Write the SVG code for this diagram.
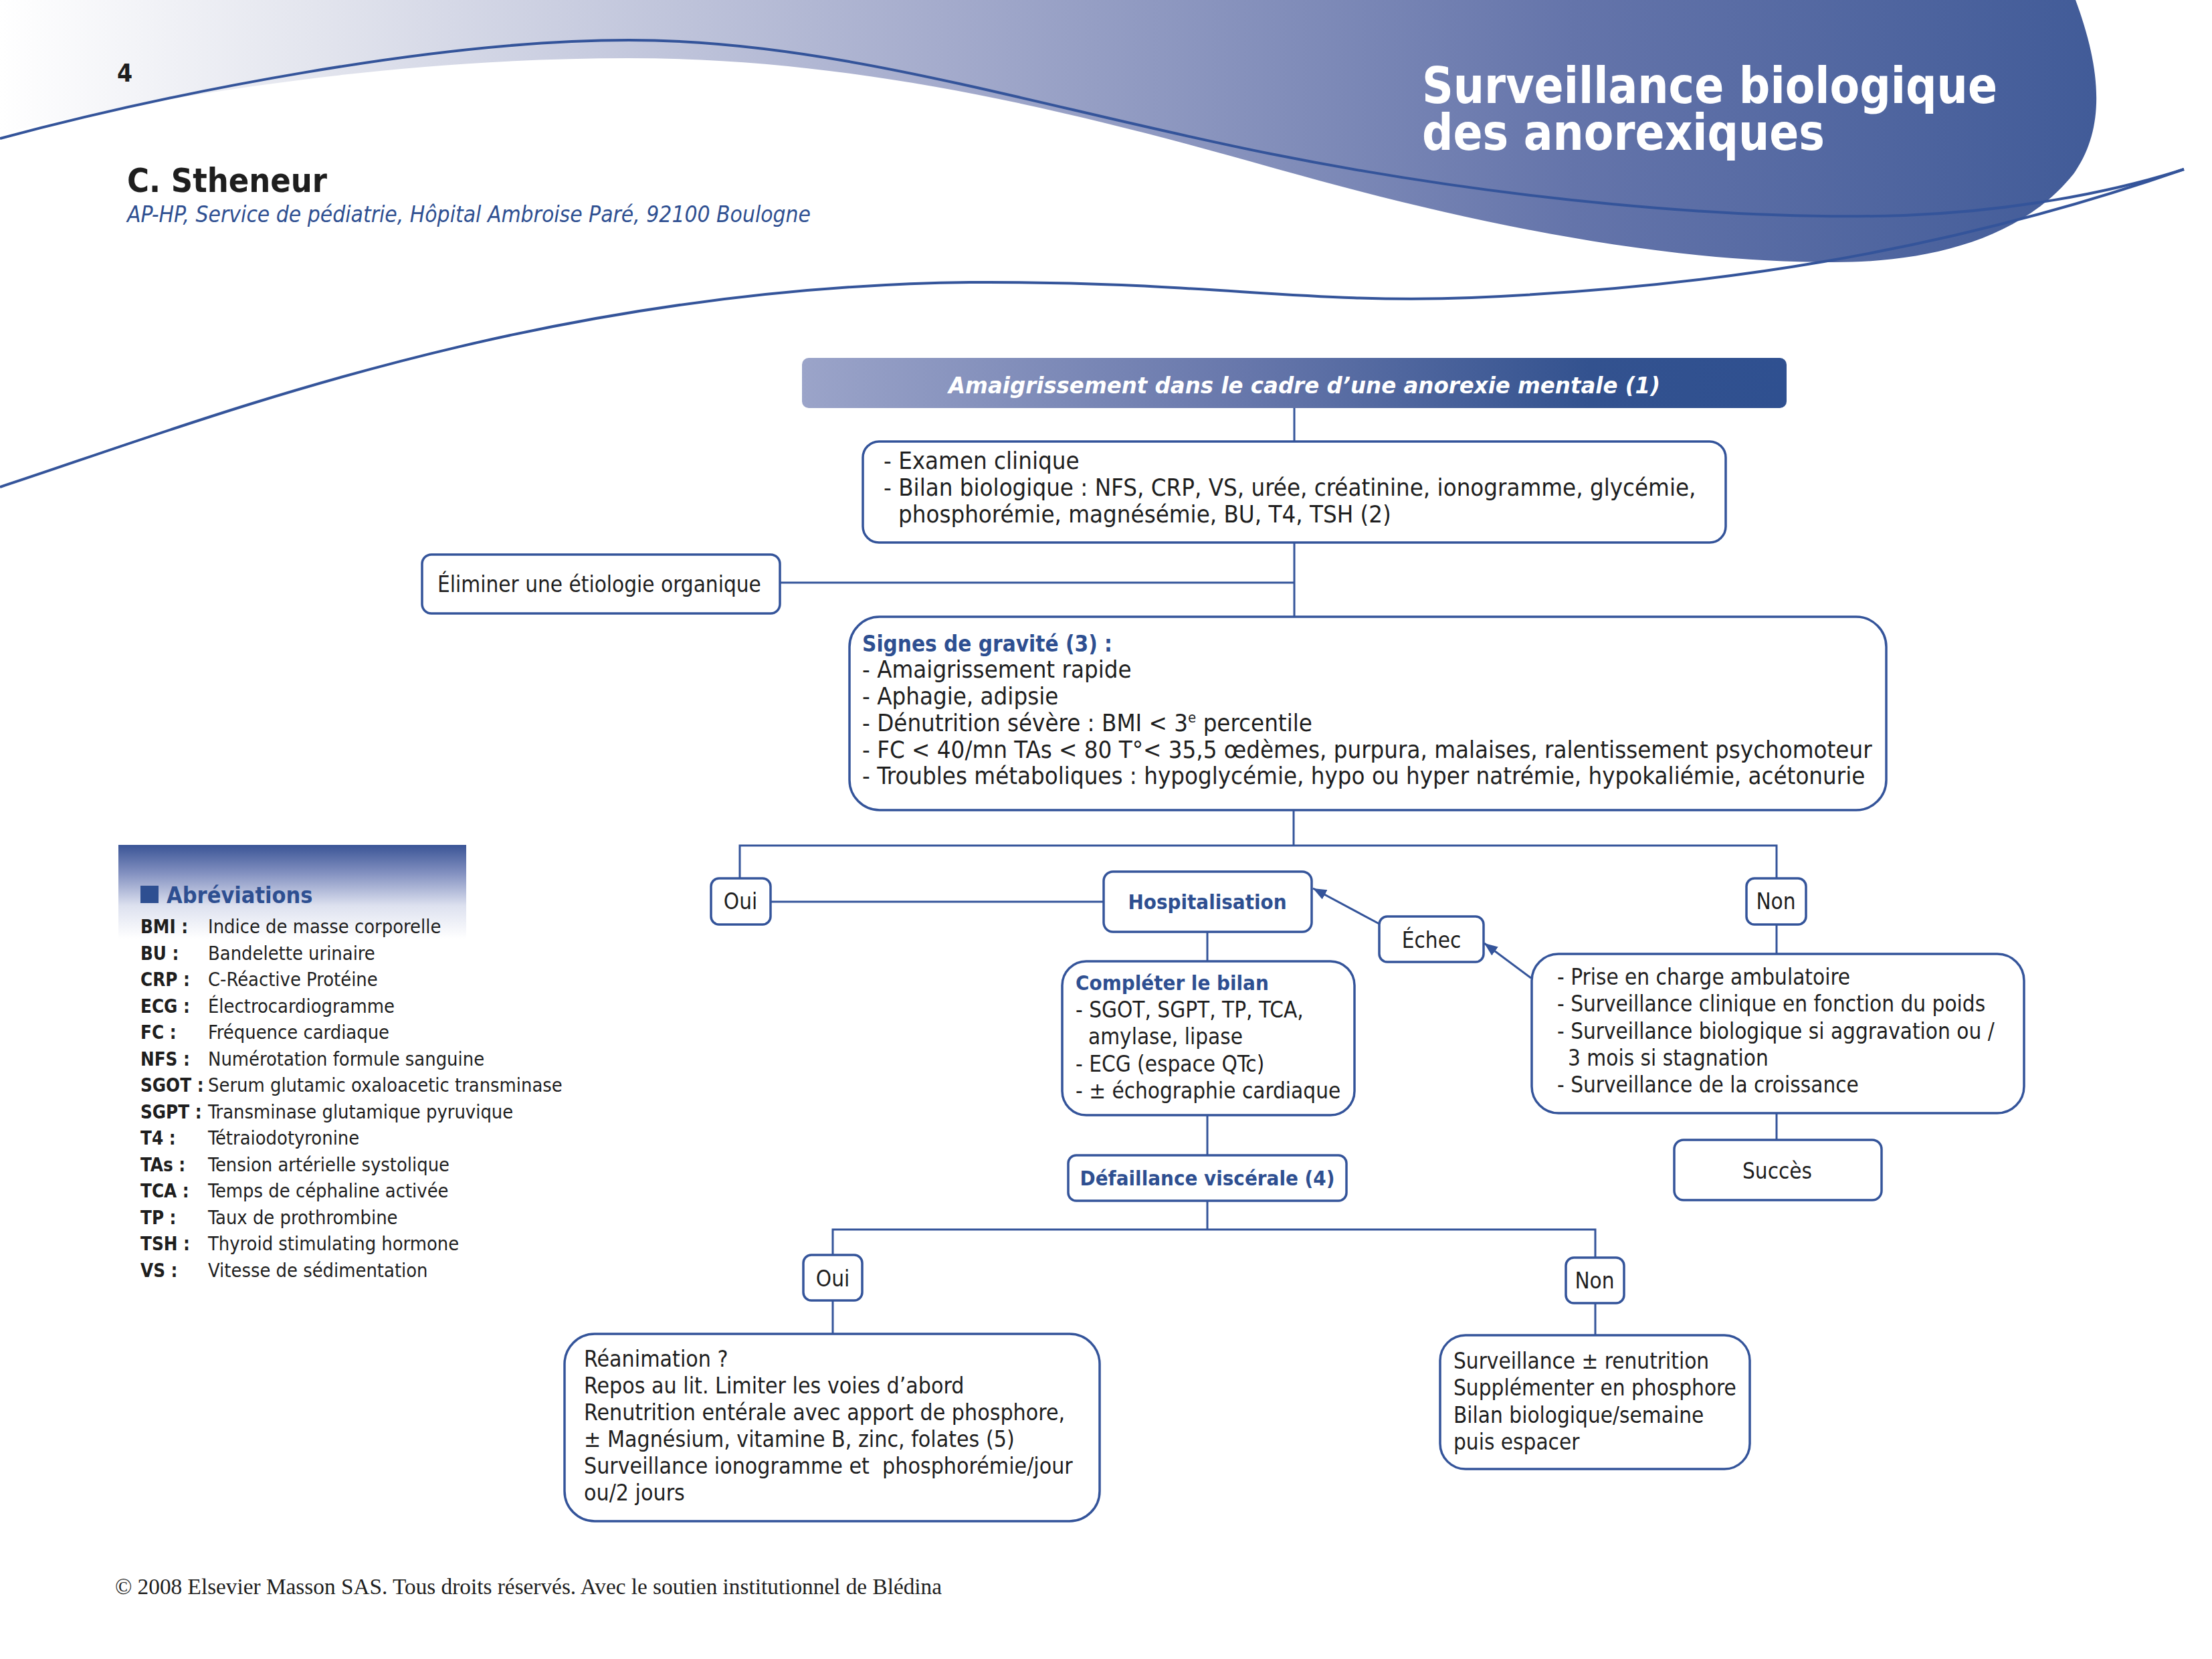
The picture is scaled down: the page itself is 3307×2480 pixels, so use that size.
<svg xmlns="http://www.w3.org/2000/svg" width="3307" height="2480" viewBox="0 0 3307 2480">
<defs>
<linearGradient id="gHead" x1="0" y1="0" x2="3140" y2="0" gradientUnits="userSpaceOnUse">
<stop offset="0" stop-color="#ffffff"/>
<stop offset="0.15" stop-color="#e3e5ee"/>
<stop offset="0.45" stop-color="#a4abcc"/>
<stop offset="0.75" stop-color="#6474aa"/>
<stop offset="1" stop-color="#415b98"/>
</linearGradient>
<linearGradient id="gBox" x1="0" y1="0" x2="1" y2="0">
<stop offset="0" stop-color="#9ba4c9"/>
<stop offset="0.45" stop-color="#6777ab"/>
<stop offset="0.8" stop-color="#33528f"/>
<stop offset="1" stop-color="#2f5090"/>
</linearGradient>
<linearGradient id="gAbr" x1="0" y1="0" x2="0" y2="1">
<stop offset="0" stop-color="#3a5496"/>
<stop offset="0.3" stop-color="#8290c0"/>
<stop offset="0.65" stop-color="#dde1ef"/>
<stop offset="1" stop-color="#ffffff"/>
</linearGradient>
<marker id="ah" viewBox="0 0 20 16" refX="20" refY="8" markerWidth="20" markerHeight="16" markerUnits="userSpaceOnUse" orient="auto">
<path d="M0,0 L20,8 L0,16 z" fill="#34549a"/>
</marker>
<style>
.t{font-family:"DejaVu Sans Condensed","DejaVu Sans",sans-serif;font-stretch:condensed;font-size:33px;fill:#1e1e1e;white-space:pre}
.lg{font-size:36.3px}
.c{text-anchor:middle}
.b{font-weight:bold;fill:#2e4f91}
.s31{font-size:31px}
.box{fill:#ffffff;stroke:#34549a;stroke-width:3.5}
.ln{fill:none;stroke:#34549a;stroke-width:3}
.wl{fill:none;stroke:#34549a;stroke-width:4}
.ab{font-family:"DejaVu Sans Condensed","DejaVu Sans",sans-serif;font-stretch:condensed;font-size:28.8px;fill:#1e1e1e}
.abk{font-weight:bold;font-size:27.5px}
</style>
</defs>
<rect width="3307" height="2480" fill="#ffffff"/>

<g id="header">
<path d="M0,0 L3103,0 C3140,100 3150,190 3100,260 C3020,360 2880,392 2742,392 C2450,392 2150,320 1900,250 C1550,150 1250,87 940,87 C600,87 250,140 0,200 Z" fill="url(#gHead)"/>
<path class="wl" d="M0,207 C250,140 650,60 940,60 C1250,60 1550,160 1900,230 C2250,300 2600,330 2847,322 C3000,316 3150,290 3265,253"/>
<path class="wl" d="M0,728 C300,630 800,430 1450,422 C1800,420 1950,455 2200,445 C2550,430 2900,380 3265,253"/>
<text x="2126" y="154" font-family="DejaVu Sans Condensed, DejaVu Sans, sans-serif" font-stretch="condensed" font-weight="bold" font-size="74" fill="#ffffff" textLength="860" lengthAdjust="spacingAndGlyphs">Surveillance biologique</text>
<text x="2126" y="224" font-family="DejaVu Sans Condensed, DejaVu Sans, sans-serif" font-stretch="condensed" font-weight="bold" font-size="74" fill="#ffffff" textLength="602" lengthAdjust="spacingAndGlyphs">des anorexiques</text>
<text x="175" y="122" class="t" style="font-weight:bold;font-size:37px">4</text>
<text x="190" y="287" class="t" style="font-weight:bold;font-size:50px">C. Stheneur</text>
<text x="190" y="332" class="t" style="font-style:italic;font-size:33.3px;fill:#2e4f91">AP-HP, Service de pédiatrie, Hôpital Ambroise Paré, 92100 Boulogne</text>
</g>

<g id="connectors">
<path class="ln" d="M1935,610 V660"/>
<path class="ln" d="M1935,811 V922"/>
<path class="ln" d="M1166,871 H1935"/>
<path class="ln" d="M1934,1211 V1264"/>
<path class="ln" d="M1106,1312 V1264 H2656 V1312"/>
<path class="ln" d="M1152,1348 H1650"/>
<path class="ln" d="M1805,1393 V1437"/>
<path class="ln" d="M1805,1667 V1727"/>
<path class="ln" d="M1805,1795 V1838"/>
<path class="ln" d="M1245,1876 V1838 H2385 V1880"/>
<path class="ln" d="M1245,1944 V1994"/>
<path class="ln" d="M2385,1948 V1996"/>
<path class="ln" d="M2656,1382 V1426"/>
<path class="ln" d="M2656,1664 V1704"/>
<path class="ln" d="M2062,1381 L1963,1328" marker-end="url(#ah)"/>
<path class="ln" d="M2289,1462 L2219,1410" marker-end="url(#ah)"/>
</g>

<g id="n-top">
<rect x="1199" y="535" width="1472" height="75" rx="10" fill="url(#gBox)"/>
<text x="1950" y="588" class="t c" style="font-weight:bold;font-style:italic;fill:#ffffff" textLength="1064" lengthAdjust="spacingAndGlyphs">Amaigrissement dans le cadre d’une anorexie mentale (1)</text>
</g>

<g id="n-examen">
<rect class="box" x="1290" y="660" width="1290" height="151" rx="24"/>
<text class="t lg" x="1321" y="701">- Examen clinique</text>
<text class="t lg" x="1321" y="741">- Bilan biologique : NFS, CRP, VS, urée, créatinine, ionogramme, glycémie,</text>
<text class="t lg" x="1343" y="781">phosphorémie, magnésémie, BU, T4, TSH (2)</text>
</g>

<g id="n-eliminer">
<rect class="box" x="631" y="829" width="535" height="88" rx="14"/>
<text class="t" x="654" y="885">Éliminer une étiologie organique</text>
</g>

<g id="n-signes">
<rect class="box" x="1270" y="922" width="1550" height="289" rx="45"/>
<text class="t b" x="1289" y="974">Signes de gravité (3) :</text>
<text class="t lg" x="1289" y="1013">- Amaigrissement rapide</text>
<text class="t lg" x="1289" y="1053">- Aphagie, adipsie</text>
<text class="t lg" x="1289" y="1093">- Dénutrition sévère : BMI &lt; 3<tspan font-size="22" dy="-13">e</tspan><tspan dy="13"> percentile</tspan></text>
<text class="t lg" x="1289" y="1133">- FC &lt; 40/mn TAs &lt; 80 T°&lt; 35,5 œdèmes, purpura, malaises, ralentissement psychomoteur</text>
<text class="t lg" x="1289" y="1172">- Troubles métaboliques : hypoglycémie, hypo ou hyper natrémie, hypokaliémie, acétonurie</text>
</g>

<g id="n-oui1">
<rect class="box" x="1063" y="1313" width="89" height="69" rx="12"/>
<text class="t c" x="1107" y="1359">Oui</text>
</g>

<g id="n-hosp">
<rect class="box" x="1650" y="1303" width="311" height="90" rx="14"/>
<text class="t c b s31" x="1805" y="1359">Hospitalisation</text>
</g>

<g id="n-non1">
<rect class="box" x="2611" y="1313" width="89" height="69" rx="12"/>
<text class="t c" x="2655" y="1359">Non</text>
</g>

<g id="n-echec">
<rect class="box" x="2062" y="1370" width="156" height="68" rx="12"/>
<text class="t c" x="2140" y="1417">Échec</text>
</g>

<g id="n-completer">
<rect class="box" x="1588" y="1437" width="437" height="230" rx="36"/>
<text class="t b s31" x="1608" y="1480">Compléter le bilan</text>
<text class="t" x="1608" y="1521">- SGOT, SGPT, TP, TCA,</text>
<text class="t" x="1627" y="1561">amylase, lipase</text>
<text class="t" x="1608" y="1602">- ECG (espace QTc)</text>
<text class="t" x="1608" y="1642">- ± échographie cardiaque</text>
</g>

<g id="n-ambulatoire">
<rect class="box" x="2290" y="1426" width="736" height="238" rx="40"/>
<text class="t" x="2328" y="1472">- Prise en charge ambulatoire</text>
<text class="t" x="2328" y="1512">- Surveillance clinique en fonction du poids</text>
<text class="t" x="2328" y="1553">- Surveillance biologique si aggravation ou /</text>
<text class="t" x="2344" y="1593">3 mois si stagnation</text>
<text class="t" x="2328" y="1633">- Surveillance de la croissance</text>
</g>

<g id="n-succes">
<rect class="box" x="2503" y="1704" width="310" height="90" rx="14"/>
<text class="t c" x="2657" y="1762">Succès</text>
</g>

<g id="n-defaillance">
<rect class="box" x="1597" y="1727" width="416" height="68" rx="12"/>
<text class="t c b s31" x="1805" y="1772">Défaillance viscérale (4)</text>
</g>

<g id="n-oui2">
<rect class="box" x="1201" y="1876" width="88" height="68" rx="12"/>
<text class="t c" x="1245" y="1923">Oui</text>
</g>

<g id="n-non2">
<rect class="box" x="2341" y="1880" width="87" height="68" rx="12"/>
<text class="t c" x="2384" y="1926">Non</text>
</g>

<g id="n-reanimation">
<rect class="box" x="844" y="1994" width="800" height="280" rx="45"/>
<text class="t" x="873" y="2043" style="font-size:33.6px">Réanimation ?</text>
<text class="t" x="873" y="2083" style="font-size:33.6px">Repos au lit. Limiter les voies d’abord</text>
<text class="t" x="873" y="2123" style="font-size:33.6px">Renutrition entérale avec apport de phosphore,</text>
<text class="t" x="873" y="2163" style="font-size:33.6px">± Magnésium, vitamine B, zinc, folates (5)</text>
<text class="t" x="873" y="2203" style="font-size:33.6px">Surveillance ionogramme et  phosphorémie/jour</text>
<text class="t" x="873" y="2243" style="font-size:33.6px">ou/2 jours</text>
</g>

<g id="n-surveillance">
<rect class="box" x="2153" y="1996" width="463" height="200" rx="38"/>
<text class="t" x="2173" y="2046">Surveillance ± renutrition</text>
<text class="t" x="2173" y="2086">Supplémenter en phosphore</text>
<text class="t" x="2173" y="2127">Bilan biologique/semaine</text>
<text class="t" x="2173" y="2167">puis espacer</text>
</g>

<g id="abreviations">
<rect x="177" y="1263" width="520" height="140" fill="url(#gAbr)"/>
<rect x="210" y="1324" width="27" height="26" fill="#2e4f91"/>
<text x="249" y="1350" class="t b" style="font-size:34px">Abréviations</text>
<g class="ab">
<text x="210" y="1395" class="abk">BMI :</text><text x="311" y="1395">Indice de masse corporelle</text>
<text x="210" y="1434.5" class="abk">BU :</text><text x="311" y="1434.5">Bandelette urinaire</text>
<text x="210" y="1474" class="abk">CRP :</text><text x="311" y="1474">C-Réactive Protéine</text>
<text x="210" y="1513.5" class="abk">ECG :</text><text x="311" y="1513.5">Électrocardiogramme</text>
<text x="210" y="1553" class="abk">FC :</text><text x="311" y="1553">Fréquence cardiaque</text>
<text x="210" y="1592.5" class="abk">NFS :</text><text x="311" y="1592.5">Numérotation formule sanguine</text>
<text x="210" y="1632" class="abk">SGOT :</text><text x="311" y="1632">Serum glutamic oxaloacetic transminase</text>
<text x="210" y="1671.5" class="abk">SGPT :</text><text x="311" y="1671.5">Transminase glutamique pyruvique</text>
<text x="210" y="1711" class="abk">T4 :</text><text x="311" y="1711">Tétraiodotyronine</text>
<text x="210" y="1750.5" class="abk">TAs :</text><text x="311" y="1750.5">Tension artérielle systolique</text>
<text x="210" y="1790" class="abk">TCA :</text><text x="311" y="1790">Temps de céphaline activée</text>
<text x="210" y="1829.5" class="abk">TP :</text><text x="311" y="1829.5">Taux de prothrombine</text>
<text x="210" y="1869" class="abk">TSH :</text><text x="311" y="1869">Thyroid stimulating hormone</text>
<text x="210" y="1908.5" class="abk">VS :</text><text x="311" y="1908.5">Vitesse de sédimentation</text>
</g>
</g>

<text x="172" y="2383" font-family="Liberation Serif, serif" font-size="33.3" fill="#1e1e1e">© 2008 Elsevier Masson SAS. Tous droits réservés. Avec le soutien institutionnel de Blédina</text>
</svg>
